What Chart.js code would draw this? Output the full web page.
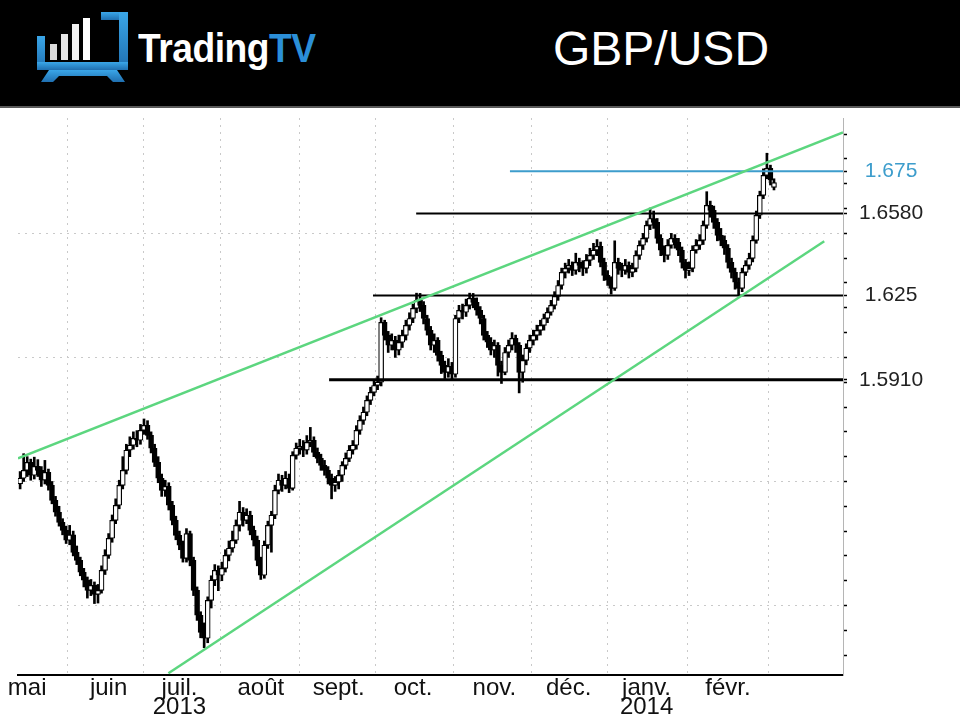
<!DOCTYPE html>
<html>
<head>
<meta charset="utf-8">
<script src="https://cdn.jsdelivr.net/npm/chart.js@4.4.1/dist/chart.umd.min.js"></script>
<style>
html,body{margin:0;padding:0;background:#fff;width:960px;height:720px;overflow:hidden;font-family:'Liberation Sans',Arial,sans-serif;}
#header{position:absolute;left:0;top:0;width:960px;height:106px;background:#000;border-bottom:2px solid #5a5a5a;}
#logo{position:absolute;left:35px;top:10px;}
#brand{position:absolute;left:138px;top:28px;font-size:40px;line-height:40px;color:#fff;letter-spacing:-0.5px;font-weight:bold;transform:scaleX(0.93);transform-origin:left top;}
#brand span{color:#2b8fd8;}
#pair{position:absolute;left:553px;top:25px;font-size:48px;line-height:48px;color:#fff;}
#wrap{position:absolute;left:0;top:108px;width:960px;height:612px;}
</style>
</head>
<body>
<div id="header">
  <svg id="logo" width="96" height="74" viewBox="0 0 96 74">
    <defs><linearGradient id="bl" x1="0" y1="0" x2="0" y2="1"><stop offset="0" stop-color="#3aa6e8"/><stop offset="1" stop-color="#1f6fb0"/></linearGradient></defs>
    <rect x="2" y="26" width="8" height="34" fill="url(#bl)"/>
    <rect x="66" y="2" width="27" height="8" fill="url(#bl)"/>
    <rect x="84" y="2" width="9" height="58" fill="url(#bl)"/>
    <rect x="2" y="52" width="91" height="8" fill="url(#bl)"/>
    <path d="M14 60 L82 60 L90 72 L78 72 L72 66 L24 66 L18 72 L6 72 Z" fill="url(#bl)"/>
    <rect x="15" y="34" width="7" height="16" fill="#dcdcdc"/>
    <rect x="26" y="24" width="7" height="26" fill="#e6e6e6"/>
    <rect x="37" y="14" width="7" height="36" fill="#f2f2f2"/>
    <rect x="48" y="8" width="7" height="42" fill="#ffffff"/>
  </svg>
  <div id="brand">Trading<span>TV</span></div>
  <div id="pair">GBP/USD</div>
</div>
<div id="wrap"><canvas id="c" width="960" height="612"></canvas></div>
<script>
// Daily GBP/USD candles, 29 Apr 2013 .. 20 Feb 2014 (index = trading day)
const open = [
1.5490,1.5513,1.5545,1.5577,1.5525,1.5561,1.5545,1.5505,1.5537,1.5484,
1.5424,1.5376,1.5335,1.5303,1.5263,1.5285,1.5214,1.5182,1.5134,1.5102,
1.5061,1.5081,1.5045,1.5061,1.5142,1.5202,1.5271,1.5343,1.5404,1.5484,
1.5545,1.5626,1.5646,1.5674,1.5666,1.5706,1.5726,1.5686,1.5634,1.5577,
1.5513,1.5464,1.5480,1.5404,1.5343,1.5283,1.5243,1.5190,1.5290,1.5182,
1.5061,1.4961,1.4892,1.4868,1.5021,1.5102,1.5142,1.5122,1.5150,1.5202,
1.5231,1.5263,1.5323,1.5376,1.5343,1.5364,1.5303,1.5263,1.5182,1.5122,
1.5243,1.5323,1.5364,1.5464,1.5505,1.5484,1.5513,1.5472,1.5605,1.5634,
1.5642,1.5626,1.5658,1.5666,1.5617,1.5593,1.5565,1.5545,1.5513,1.5484,
1.5497,1.5525,1.5565,1.5593,1.5626,1.5646,1.5706,1.5746,1.5779,1.5827,
1.5859,1.5887,1.5900,1.6141,1.6089,1.6049,1.6069,1.6029,1.6061,1.6089,
1.6129,1.6157,1.6198,1.6230,1.6210,1.6157,1.6109,1.6049,1.6069,1.6008,
1.5968,1.5940,1.5964,1.5932,1.6157,1.6190,1.6182,1.6210,1.6238,1.6222,
1.6190,1.6157,1.6089,1.6061,1.6029,1.6049,1.5968,1.5940,1.6020,1.6049,
1.6077,1.6049,1.5940,1.5988,1.6037,1.6069,1.6089,1.6109,1.6129,1.6157,
1.6182,1.6210,1.6246,1.6290,1.6343,1.6359,1.6371,1.6351,1.6383,1.6371,
1.6359,1.6391,1.6411,1.6432,1.6448,1.6383,1.6331,1.6311,1.6278,1.6383,
1.6359,1.6351,1.6371,1.6343,1.6359,1.6411,1.6452,1.6480,1.6532,1.6560,
1.6544,1.6480,1.6432,1.6411,1.6452,1.6480,1.6464,1.6432,1.6383,1.6351,
1.6359,1.6432,1.6452,1.6472,1.6532,1.6613,1.6593,1.6544,1.6492,1.6472,
1.6440,1.6383,1.6343,1.6303,1.6278,1.6343,1.6371,1.6399,1.6472,1.6573,
1.6653,1.6734,1.6762,1.6685
];
const high = [
1.5540,1.5612,1.5600,1.5590,1.5598,1.5588,1.5560,1.5585,1.5550,1.5500,
1.5440,1.5400,1.5350,1.5320,1.5323,1.5300,1.5240,1.5195,1.5150,1.5115,
1.5105,1.5095,1.5085,1.5160,1.5225,1.5290,1.5365,1.5430,1.5505,1.5600,
1.5650,1.5680,1.5700,1.5705,1.5730,1.5752,1.5745,1.5700,1.5650,1.5600,
1.5530,1.5505,1.5495,1.5420,1.5360,1.5300,1.5260,1.5310,1.5300,1.5195,
1.5075,1.4975,1.4930,1.5035,1.5120,1.5165,1.5160,1.5175,1.5225,1.5260,
1.5300,1.5345,1.5420,1.5395,1.5390,1.5380,1.5320,1.5280,1.5195,1.5260,
1.5340,1.5380,1.5485,1.5530,1.5525,1.5540,1.5530,1.5620,1.5655,1.5670,
1.5665,1.5685,1.5718,1.5680,1.5635,1.5610,1.5585,1.5560,1.5530,1.5520,
1.5545,1.5580,1.5615,1.5645,1.5665,1.5725,1.5765,1.5800,1.5845,1.5880,
1.5905,1.5925,1.6160,1.6150,1.6105,1.6095,1.6085,1.6090,1.6110,1.6150,
1.6180,1.6215,1.6259,1.6258,1.6225,1.6170,1.6125,1.6095,1.6080,1.6025,
1.5985,1.5995,1.5980,1.6170,1.6210,1.6215,1.6235,1.6259,1.6258,1.6240,
1.6205,1.6170,1.6105,1.6080,1.6070,1.6060,1.5985,1.6040,1.6070,1.6100,
1.6090,1.6060,1.6010,1.6055,1.6090,1.6110,1.6130,1.6150,1.6175,1.6200,
1.6230,1.6265,1.6310,1.6360,1.6380,1.6395,1.6385,1.6420,1.6400,1.6390,
1.6415,1.6440,1.6460,1.6475,1.6465,1.6400,1.6350,1.6325,1.6470,1.6400,
1.6380,1.6395,1.6385,1.6380,1.6430,1.6470,1.6500,1.6550,1.6602,1.6590,
1.6560,1.6495,1.6450,1.6475,1.6500,1.6495,1.6480,1.6445,1.6395,1.6385,
1.6450,1.6475,1.6495,1.6550,1.6668,1.6630,1.6610,1.6560,1.6520,1.6490,
1.6455,1.6400,1.6360,1.6320,1.6360,1.6390,1.6420,1.6490,1.6590,1.6670,
1.6760,1.6823,1.6775,1.6720
];
const low = [
1.5470,1.5500,1.5520,1.5505,1.5510,1.5520,1.5480,1.5490,1.5465,1.5410,
1.5360,1.5320,1.5285,1.5250,1.5245,1.5200,1.5165,1.5120,1.5075,1.5030,
1.5040,1.5008,1.5010,1.5050,1.5125,1.5190,1.5255,1.5330,1.5390,1.5470,
1.5530,1.5600,1.5630,1.5640,1.5650,1.5690,1.5670,1.5615,1.5560,1.5495,
1.5440,1.5440,1.5385,1.5325,1.5265,1.5225,1.5175,1.5175,1.5160,1.5040,
1.4940,1.4870,1.4830,1.4850,1.4990,1.5080,1.5060,1.5100,1.5135,1.5180,
1.5215,1.5250,1.5300,1.5320,1.5330,1.5285,1.5240,1.5160,1.5105,1.5110,
1.5230,1.5215,1.5350,1.5450,1.5460,1.5470,1.5455,1.5465,1.5590,1.5610,
1.5600,1.5610,1.5640,1.5600,1.5575,1.5545,1.5525,1.5490,1.5430,1.5460,
1.5470,1.5500,1.5550,1.5580,1.5610,1.5630,1.5690,1.5730,1.5765,1.5810,
1.5845,1.5870,1.5885,1.6070,1.6020,1.6030,1.6000,1.6010,1.6040,1.6070,
1.6110,1.6140,1.6180,1.6185,1.6135,1.6090,1.6030,1.6020,1.5985,1.5935,
1.5915,1.5920,1.5910,1.5920,1.6140,1.6155,1.6165,1.6195,1.6200,1.6170,
1.6135,1.6070,1.6040,1.6010,1.6000,1.5925,1.5895,1.5930,1.6000,1.6030,
1.6020,1.5857,1.5900,1.5970,1.6020,1.6050,1.6070,1.6090,1.6110,1.6140,
1.6170,1.6195,1.6230,1.6275,1.6320,1.6340,1.6330,1.6335,1.6345,1.6330,
1.6340,1.6370,1.6395,1.6410,1.6365,1.6310,1.6290,1.6255,1.6270,1.6335,
1.6325,1.6335,1.6320,1.6325,1.6345,1.6395,1.6435,1.6465,1.6515,1.6520,
1.6460,1.6410,1.6385,1.6395,1.6440,1.6440,1.6410,1.6360,1.6320,1.6330,
1.6345,1.6420,1.6435,1.6455,1.6520,1.6565,1.6520,1.6470,1.6450,1.6415,
1.6360,1.6320,1.6275,1.6252,1.6265,1.6330,1.6355,1.6385,1.6460,1.6560,
1.6640,1.6720,1.6695,1.6675
];
const close = [
1.5513,1.5545,1.5577,1.5525,1.5561,1.5545,1.5505,1.5537,1.5484,1.5424,
1.5376,1.5335,1.5303,1.5263,1.5285,1.5214,1.5182,1.5134,1.5102,1.5061,
1.5081,1.5045,1.5061,1.5142,1.5202,1.5271,1.5343,1.5404,1.5484,1.5545,
1.5626,1.5646,1.5674,1.5666,1.5706,1.5726,1.5686,1.5634,1.5577,1.5513,
1.5464,1.5480,1.5404,1.5343,1.5283,1.5243,1.5190,1.5290,1.5182,1.5061,
1.4961,1.4892,1.4868,1.5021,1.5102,1.5142,1.5122,1.5150,1.5202,1.5231,
1.5263,1.5323,1.5376,1.5343,1.5364,1.5303,1.5263,1.5182,1.5122,1.5243,
1.5323,1.5364,1.5464,1.5505,1.5484,1.5513,1.5472,1.5605,1.5634,1.5642,
1.5626,1.5658,1.5666,1.5617,1.5593,1.5565,1.5545,1.5513,1.5484,1.5497,
1.5525,1.5565,1.5593,1.5626,1.5646,1.5706,1.5746,1.5779,1.5827,1.5859,
1.5887,1.5900,1.6141,1.6089,1.6049,1.6069,1.6029,1.6061,1.6089,1.6129,
1.6157,1.6198,1.6230,1.6210,1.6157,1.6109,1.6049,1.6069,1.6008,1.5968,
1.5940,1.5964,1.5932,1.6157,1.6190,1.6182,1.6210,1.6238,1.6222,1.6190,
1.6157,1.6089,1.6061,1.6029,1.6049,1.5968,1.5940,1.6020,1.6049,1.6077,
1.6049,1.5940,1.5988,1.6037,1.6069,1.6089,1.6109,1.6129,1.6157,1.6182,
1.6210,1.6246,1.6290,1.6343,1.6359,1.6371,1.6351,1.6383,1.6371,1.6359,
1.6391,1.6411,1.6432,1.6448,1.6383,1.6331,1.6311,1.6278,1.6383,1.6359,
1.6351,1.6371,1.6343,1.6359,1.6411,1.6452,1.6480,1.6532,1.6560,1.6544,
1.6480,1.6432,1.6411,1.6452,1.6480,1.6464,1.6432,1.6383,1.6351,1.6359,
1.6432,1.6452,1.6472,1.6532,1.6613,1.6593,1.6544,1.6492,1.6472,1.6440,
1.6383,1.6343,1.6303,1.6278,1.6343,1.6371,1.6399,1.6472,1.6573,1.6653,
1.6734,1.6762,1.6714,1.6705
];

// Month starts (trading-day index) and their labels
const monthTickIdx = [2, 25, 45, 68, 90, 111, 134, 155, 177, 200];
const monthLabels = ['mai', 'juin', ['juil.', '2013'], 'août', 'sept.', 'oct.', 'nov.', 'déc.', ['janv.', '2014'], 'févr.'];

// Trend channel (trading-day index, price)
const upperTrendX = [-0.6, 232.5];
const upperTrendY = [1.5593, 1.6907];
const lowerTrendX = [41.9, 227.2];
const lowerTrendY = [1.4727, 1.6468];

// Horizontal levels
const levels = [1.5910, 1.625, 1.6580, 1.675];
const levelLabels = ['1.5910', '1.625', '1.6580', '1.675'];
const levelStartX = [87.3, 99.7, 111.9, 138.4];

const X_MIN = -0.6, X_MAX = 232.5, Y_MIN = 1.472, Y_MAX = 1.6965;
const BLUE = '#3d9dcc', GREEN = '#5cd67f';

Chart.defaults.font.family = "'Liberation Sans', Arial, sans-serif";

const wickData = close.map((c, i) => ({x: i, y: [low[i], high[i]]}));
const bodyData = close.map((c, i) => ({x: i, y: [open[i], c]}));

const levelSets = levels.map((v, i) => ({
  type: 'line',
  data: [{x: levelStartX[i], y: v}, {x: X_MAX, y: v}],
  borderColor: i === 3 ? BLUE : '#000',
  borderWidth: i === 0 ? 3 : 2,
  pointRadius: 0, tension: 0, order: 0
}));

new Chart(document.getElementById('c'), {
  type: 'bar',
  data: {
    datasets: [
      {type: 'line', data: upperTrendX.map((x, i) => ({x, y: upperTrendY[i]})), borderColor: GREEN, borderWidth: 2.5, pointRadius: 0, tension: 0, order: 0},
      {type: 'line', data: lowerTrendX.map((x, i) => ({x, y: lowerTrendY[i]})), borderColor: GREEN, borderWidth: 2.5, pointRadius: 0, tension: 0, order: 0},
      ...levelSets,
      {type: 'bar', data: wickData, backgroundColor: '#000', borderWidth: 0, barThickness: 2, grouped: false, order: 2},
      {type: 'bar', data: bodyData,
        backgroundColor: ctx => close[ctx.dataIndex] >= open[ctx.dataIndex] ? '#fff' : '#000',
        borderColor: '#000', borderWidth: 1.2, borderSkipped: false, barThickness: 5, grouped: false, order: 1}
    ]
  },
  options: {
    responsive: false,
    animation: false,
    layout: {padding: {left: 18, top: 10, right: 0, bottom: 0}},
    plugins: {legend: {display: false}, tooltip: {enabled: false}},
    scales: {
      x: {
        type: 'linear', min: X_MIN, max: X_MAX, offset: false,
        afterBuildTicks: s => { s.ticks = monthTickIdx.map(v => ({value: v})); },
        afterFit: s => { s.height = 45; },
        ticks: {
          autoSkip: false, maxRotation: 0, minRotation: 0, padding: 4, color: '#111',
          font: {size: 24, lineHeight: 0.8},
          callback: v => { const k = monthTickIdx.indexOf(v); return k >= 0 ? monthLabels[k] : ''; }
        },
        grid: {drawTicks: false, color: '#c9c9c9', lineWidth: 1},
        border: {display: true, color: '#000', width: 2, dash: [2, 5]}
      },
      y: {
        type: 'linear', position: 'right', min: Y_MIN, max: Y_MAX,
        afterBuildTicks: s => {
          const t = [];
          for (let k = 148; k <= 169; k++) t.push(k / 100);
          levels.forEach(v => t.push(v));
          t.sort((a, b) => a - b);
          s.ticks = t.map(v => ({value: v}));
        },
        afterFit: s => { s.width = 117; s.paddingTop = 0; s.paddingBottom = 0; },
        ticks: {
          autoSkip: false, padding: 12, crossAlign: 'center',
          font: {size: 21},
          color: ctx => Math.abs(ctx.tick.value - 1.675) < 1e-6 ? BLUE : '#222',
          callback: v => { const k = levels.findIndex(l => Math.abs(l - v) < 1e-6); return k >= 0 ? levelLabels[k] : ''; }
        },
        grid: {
          color: ctx => { const v = ctx.tick.value * 20; return Math.abs(v - Math.round(v)) < 1e-6 ? '#c9c9c9' : 'rgba(0,0,0,0)'; },
          tickColor: '#000', tickLength: 4, tickWidth: 1.5
        },
        border: {display: true, color: '#b5b5b5', width: 1, dash: [2, 5]}
      }
    }
  }
});
</script>
</body>
</html>
